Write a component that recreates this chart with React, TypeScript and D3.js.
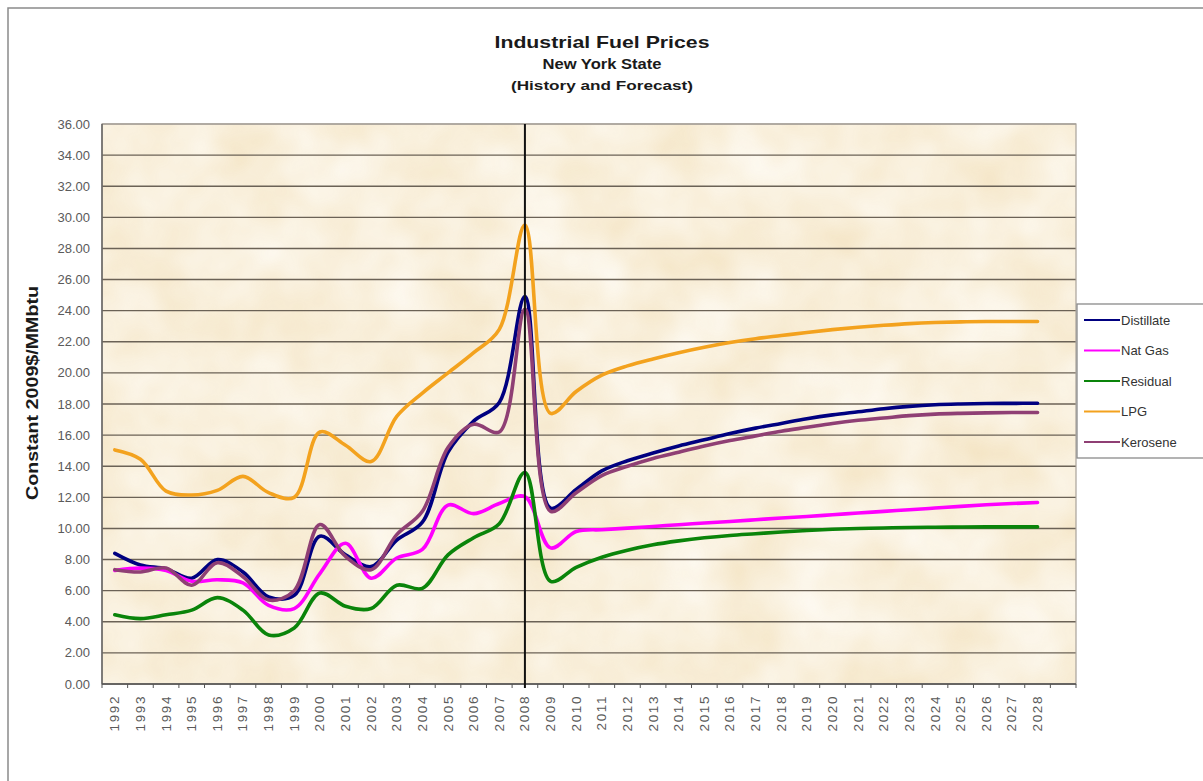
import React from "react";
import * as d3 from "d3";

const categories = [
  "1992","1993","1994","1995","1996","1997","1998","1999","2000","2001",
  "2002","2003","2004","2005","2006","2007","2008","2009","2010","2011",
  "2012","2013","2014","2015","2016","2017","2018","2019","2020","2021",
  "2022","2023","2024","2025","2026","2027","2028","",
];

const distillate = [8.4, 7.65, 7.4, 6.8, 8.0, 7.2, 5.6, 5.7, 9.5, 8.3, 7.55, 9.25, 10.4, 14.9, 16.9, 18.1, 24.9, 11.3, 12.5, 13.7, 14.35, 14.85, 15.3, 15.7, 16.1, 16.45, 16.75, 17.05, 17.3, 17.5, 17.7, 17.85, 17.95, 18.0, 18.03, 18.04, 18.05];
const natGas = [7.3, 7.45, 7.3, 6.6, 6.7, 6.5, 5.05, 4.85, 7.1, 9.05, 6.8, 8.1, 8.65, 11.5, 10.95, 11.6, 12.05, 8.75, 9.8, 9.92, 10.02, 10.13, 10.24, 10.35, 10.45, 10.56, 10.67, 10.77, 10.88, 10.99, 11.1, 11.2, 11.31, 11.42, 11.52, 11.6, 11.67];
const residual = [4.45, 4.2, 4.45, 4.75, 5.55, 4.75, 3.15, 3.6, 5.85, 5.0, 4.85, 6.35, 6.15, 8.3, 9.4, 10.3, 13.6, 6.6, 7.5, 8.15, 8.6, 8.95, 9.2, 9.4, 9.55, 9.66, 9.77, 9.87, 9.95, 10.0, 10.03, 10.06, 10.08, 10.09, 10.1, 10.1, 10.1];
const lpg = [15.05, 14.45, 12.4, 12.15, 12.45, 13.35, 12.3, 12.0, 16.2, 15.35, 14.3, 17.2, 18.7, 20.0, 21.3, 22.8, 29.5, 17.4, 18.8, 19.85, 20.45, 20.9, 21.3, 21.65, 21.95, 22.2, 22.4, 22.6, 22.78, 22.93, 23.06, 23.17, 23.24, 23.28, 23.3, 23.3, 23.3];
const kerosene = [7.35, 7.2, 7.45, 6.35, 7.8, 6.9, 5.4, 6.0, 10.25, 8.2, 7.35, 9.6, 11.1, 15.2, 16.7, 16.2, 24.1, 11.1, 12.3, 13.4, 14.0, 14.5, 14.9, 15.3, 15.65, 15.95, 16.25, 16.5, 16.75, 16.95, 17.1, 17.25, 17.35, 17.4, 17.43, 17.45, 17.45];

const seriesNames = ["Distillate", "Nat Gas", "Residual", "LPG", "Kerosene"];
const seriesValues = [distillate, natGas, residual, lpg, kerosene];
const seriesColors = ["#000080", "#ff00ff", "#0a840a", "#f3a21e", "#8f3f74"];

const yTicks = [0, 2, 4, 6, 8, 10, 12, 14, 16, 18, 20, 22, 24, 26, 28, 30, 32, 34, 36];
const dividerYear = "2008";

const W = 1203;
const H = 781;
const plot = { left: 102, right: 1076, top: 124, bottom: 684 };

export default function App() {
  const x = d3.scaleBand().domain(categories.map((c, i) => String(i))).range([plot.left, plot.right]).padding(0);
  const bw = x.bandwidth();
  const cx = (i: number) => (x(String(i)) as number) + bw / 2;
  const y = d3.scaleLinear().domain([0, 36]).range([plot.bottom, plot.top]);
  const line = d3
    .line<number>()
    .x((_, i) => cx(i))
    .y((d) => y(d))
    .curve(d3.curveCatmullRom.alpha(0.5));

  const divIdx = categories.indexOf(dividerYear);
  const font = "Arial, 'Liberation Sans', sans-serif";

  return (
    <svg width={W} height={H} style={{ position: "absolute", left: 0, top: 0, background: "#fff" }} fontFamily={font}>
      <defs>
        <filter id="paper" x="0" y="0" width="100%" height="100%">
          <feTurbulence type="fractalNoise" baseFrequency="0.014" numOctaves="3" seed="7" />
          <feColorMatrix type="matrix" values="0 0 0 0 1  0 0 0 0 0.985  0 0 0 0 0.95  1.2 0 0 0 -0.05" />
        </filter>
      </defs>
      {/* chart area border */}
      <rect x={8} y={8} width={W} height={H} fill="#fff" stroke="#8a8a8a" strokeWidth={1.5} />

      {/* titles */}
      <text x={602} y={48} textAnchor="middle" fontWeight="bold" fontSize={17} textLength={215} lengthAdjust="spacingAndGlyphs" fill="#1a1a1a">Industrial Fuel Prices</text>
      <text x={602} y={69} textAnchor="middle" fontWeight="bold" fontSize={14} textLength={119} lengthAdjust="spacingAndGlyphs" fill="#1a1a1a">New York State</text>
      <text x={602} y={90} textAnchor="middle" fontWeight="bold" fontSize={13} textLength={182} lengthAdjust="spacingAndGlyphs" fill="#1a1a1a">(History and Forecast)</text>

      {/* plot background */}
      <rect x={plot.left} y={plot.top} width={plot.right - plot.left} height={plot.bottom - plot.top} fill="#f4e4c3" />
      <rect x={plot.left} y={plot.top} width={plot.right - plot.left} height={plot.bottom - plot.top} filter="url(#paper)" opacity={0.85} />

      {/* gridlines */}
      {yTicks.map((t) => (
        <line key={t} x1={plot.left} x2={plot.right} y1={y(t)} y2={y(t)} stroke={t === 36 ? "#a8a29a" : "#6b6256"} strokeWidth={1.4} />
      ))}
      <rect x={plot.left} y={plot.top} width={plot.right - plot.left} height={plot.bottom - plot.top} fill="none" stroke="#a8a29a" strokeWidth={1.2} />

      {/* axes */}
      <line x1={plot.left} x2={plot.left} y1={plot.top} y2={plot.bottom} stroke="#555" strokeWidth={1.3} />
      <line x1={plot.left} x2={plot.right} y1={plot.bottom} y2={plot.bottom} stroke="#555" strokeWidth={1.3} />
      {categories.map((c, i) => (
        <line key={"t" + i} x1={x(String(i)) as number} x2={x(String(i)) as number} y1={plot.bottom} y2={plot.bottom + 4} stroke="#555" strokeWidth={1} />
      ))}
      <line x1={plot.right} x2={plot.right} y1={plot.bottom} y2={plot.bottom + 4} stroke="#555" strokeWidth={1} />

      {/* y tick labels */}
      {yTicks.map((t) => (
        <text key={"yl" + t} x={90} y={y(t)} dy="0.35em" textAnchor="end" fontSize={13} fill="#5a5a5a">
          {t.toFixed(2)}
        </text>
      ))}

      {/* x tick labels */}
      {categories.map((c, i) =>
        c ? (
          <text
            key={"xl" + i}
            transform={`translate(${cx(i)},${plot.bottom + 11}) rotate(-90)`}
            textAnchor="end"
            dominantBaseline="central"
            fontSize={13.5}
            letterSpacing={1.6}
            fill="#5a5a5a"
          >
            {c}
          </text>
        ) : null
      )}

      {/* y axis title */}
      <text transform="translate(32,393) rotate(-90)" textAnchor="middle" dominantBaseline="central" fontWeight="bold" fontSize={17} textLength={214} lengthAdjust="spacingAndGlyphs" fill="#1a1a1a">
        Constant 2009$/MMbtu
      </text>

      {/* series */}
      {seriesValues.map((vals, si) => (
        <path key={seriesNames[si]} d={line(vals) as string} fill="none" stroke={seriesColors[si]} strokeWidth={3.6} strokeLinejoin="round" strokeLinecap="round" />
      ))}

      {/* divider at 2008 */}
      <line x1={cx(divIdx)} x2={cx(divIdx)} y1={plot.top} y2={plot.bottom + 4} stroke="#111" strokeWidth={2} />

      {/* legend */}
      <rect x={1077} y={304} width={140} height={154} fill="#fff" stroke="#8a8a8a" strokeWidth={1.3} />
      {seriesNames.map((n, i) => {
        const ly = 320 + i * 30.5;
        return (
          <g key={"lg" + n}>
            <line x1={1084} x2={1120} y1={ly} y2={ly} stroke={seriesColors[i]} strokeWidth={2} />
            <text x={1121} y={ly} dy="0.35em" fontSize={13} fill="#333">{n}</text>
          </g>
        );
      })}
    </svg>
  );
}
